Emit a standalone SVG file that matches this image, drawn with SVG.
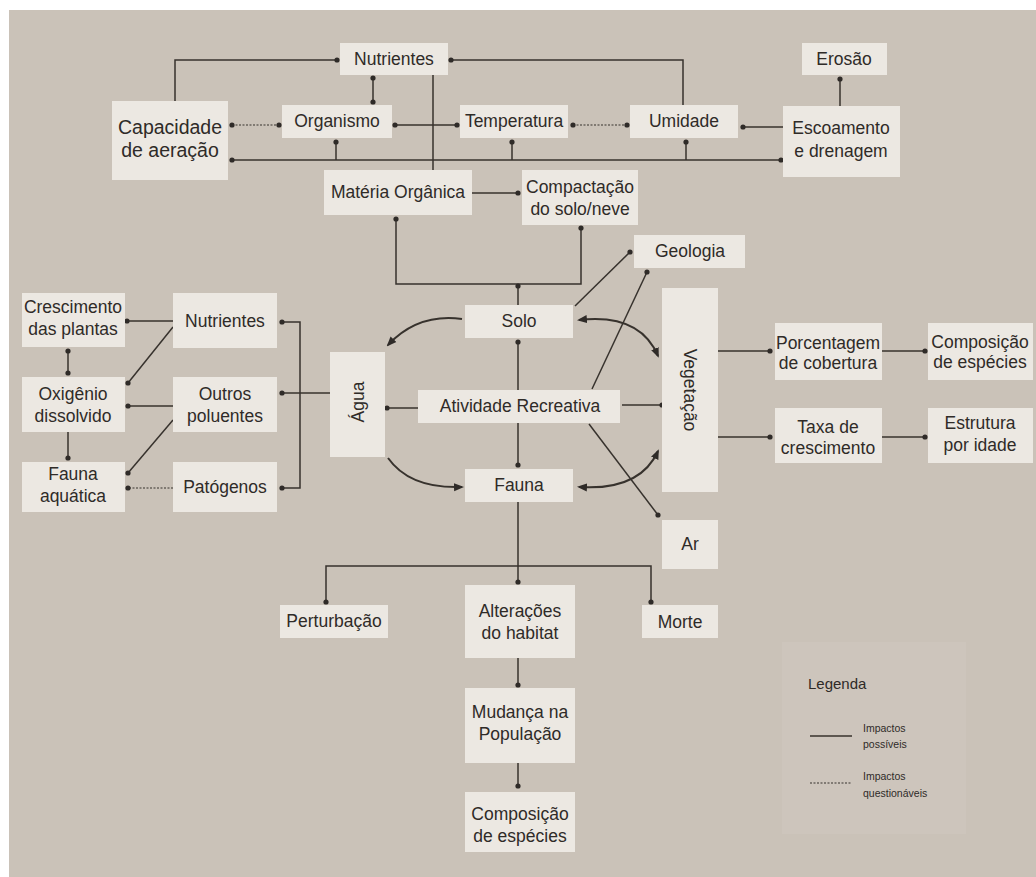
<svg xmlns="http://www.w3.org/2000/svg" width="1036" height="877" viewBox="0 0 1036 877">
<defs>
<style>
.box{fill:#ece8e2;}
.t{font-family:"Liberation Sans","Noto Sans",Arial,sans-serif;font-size:17.5px;fill:#2f2b28;text-anchor:middle;}
.big{font-size:19.5px;}
.lg{font-family:"Liberation Sans","Noto Sans",Arial,sans-serif;fill:#2f2b28;}
.c{fill:none;stroke:#37322d;stroke-width:1.5;}
.q{fill:none;stroke:#37322d;stroke-width:1.1;stroke-dasharray:2 1.5;}
.a{fill:none;stroke:#37322d;stroke-width:2;}
</style>
<marker id="dot" viewBox="0 0 6 6" refX="3" refY="3" markerWidth="6" markerHeight="6" markerUnits="userSpaceOnUse">
<circle cx="3" cy="3" r="2.6" fill="#2f2b28"/>
</marker>
<marker id="arr" viewBox="0 0 10 10" refX="8" refY="5" markerWidth="10" markerHeight="10" markerUnits="userSpaceOnUse" orient="auto-start-reverse">
<path d="M0,1 L10,5 L0,9 Z" fill="#2f2b28"/>
</marker>
</defs>
<rect x="0" y="0" width="1036" height="877" fill="#ffffff"/>
<rect x="9" y="10" width="1027" height="867" fill="#cac2b8"/>
<rect x="782" y="642" width="184" height="192" fill="#d3ccc2" opacity="0.35"/>

<g id="connectors">
<path class="c" d="M175,101 V60 H337" marker-end="url(#dot)"/>
<path class="c" d="M451,60 H683 V105" marker-start="url(#dot)"/>
<path class="c" d="M373,78 V102" marker-start="url(#dot)" marker-end="url(#dot)"/>
<path class="c" d="M433,75 V170"/>
<path class="q" d="M232,125 H279" marker-start="url(#dot)" marker-end="url(#dot)"/>
<path class="c" d="M395,125 H457" marker-start="url(#dot)" marker-end="url(#dot)"/>
<path class="q" d="M573,125 H627" marker-start="url(#dot)" marker-end="url(#dot)"/>
<path class="c" d="M743,127 H783" marker-start="url(#dot)"/>
<path class="c" d="M840,79 V106" marker-start="url(#dot)"/>
<path class="c" d="M232,160 H781" marker-start="url(#dot)" marker-end="url(#dot)"/>
<path class="c" d="M336,142 V160" marker-start="url(#dot)"/>
<path class="c" d="M512,142 V160" marker-start="url(#dot)"/>
<path class="c" d="M686,142 V160" marker-start="url(#dot)"/>
<path class="c" d="M472,193 H518" marker-end="url(#dot)"/>
<path class="c" d="M396,219 V284 H581 V228" marker-start="url(#dot)" marker-end="url(#dot)"/>
<path class="c" d="M518,286 V305" marker-start="url(#dot)"/>

<path class="c" d="M575,306 L630,252" marker-end="url(#dot)"/>
<path class="c" d="M592,389 L647,272" marker-end="url(#dot)"/>
<path class="c" d="M589,424 L658,515" marker-end="url(#dot)"/>
<path class="c" d="M518,342 V390" marker-start="url(#dot)"/>
<path class="c" d="M518,423 V465" marker-end="url(#dot)"/>
<path class="c" d="M418,408 H387" marker-end="url(#dot)"/>
<path class="c" d="M622,405 H662" marker-end="url(#dot)"/>
<path class="a" d="M462,319 Q418,313 388,345" marker-end="url(#arr)"/>
<path class="a" d="M388,458 Q410,489 462,487" marker-end="url(#arr)"/>
<path class="a" d="M579,320 Q640,313 658,356" marker-start="url(#arr)" marker-end="url(#arr)"/>
<path class="a" d="M579,487 Q640,491 658,451" marker-start="url(#arr)" marker-end="url(#arr)"/>

<path class="c" d="M173,321 H127" marker-end="url(#dot)"/>
<path class="c" d="M173,327 L128,383" marker-end="url(#dot)"/>
<path class="c" d="M173,406 H128" marker-end="url(#dot)"/>
<path class="c" d="M173,420 L128,473" marker-end="url(#dot)"/>
<path class="q" d="M173,488 H128" marker-end="url(#dot)"/>
<path class="c" d="M68,351 V373" marker-start="url(#dot)" marker-end="url(#dot)"/>
<path class="c" d="M68,432 V458" marker-end="url(#dot)"/>
<path class="c" d="M282,322 H300 V488 H282" marker-start="url(#dot)" marker-end="url(#dot)"/>
<path class="c" d="M330,393 H282" marker-end="url(#dot)"/>

<path class="c" d="M718,351 H770" marker-end="url(#dot)"/>
<path class="c" d="M882,351 H925" marker-end="url(#dot)"/>
<path class="c" d="M718,437 H770" marker-end="url(#dot)"/>
<path class="c" d="M882,437 H925" marker-end="url(#dot)"/>

<path class="c" d="M518,502 V582" marker-end="url(#dot)"/>
<path class="c" d="M326,602 V566 H651 V602" marker-start="url(#dot)" marker-end="url(#dot)"/>
<path class="c" d="M518,658 V685" marker-end="url(#dot)"/>
<path class="c" d="M518,763 V786" marker-end="url(#dot)"/>
</g>

<g id="n_nutrientes_top"><rect class="box" x="340" y="43" width="108" height="32"/><text class="t" x="394" y="65">Nutrientes</text></g>
<g id="n_capacidade"><rect class="box" x="112" y="101" width="116" height="79"/><text class="t big" x="170" y="134">Capacidade</text><text class="t big" x="170" y="157">de aeração</text></g>
<g id="n_organismo"><rect class="box" x="282" y="105" width="110" height="33"/><text class="t" x="337" y="127">Organismo</text></g>
<g id="n_temperatura"><rect class="box" x="460" y="105" width="108" height="33"/><text class="t" x="514" y="127">Temperatura</text></g>
<g id="n_umidade"><rect class="box" x="630" y="105" width="108" height="33"/><text class="t" x="684" y="127">Umidade</text></g>
<g id="n_erosao"><rect class="box" x="802" y="43" width="85" height="32"/><text class="t" x="844" y="65">Erosão</text></g>
<g id="n_escoamento"><rect class="box" x="783" y="106" width="117" height="71"/><text class="t" x="841" y="134">Escoamento</text><text class="t" x="841" y="157">e drenagem</text></g>
<g id="n_materia"><rect class="box" x="324" y="170" width="148" height="45"/><text class="t" x="398" y="198">Matéria Orgânica</text></g>
<g id="n_compactacao"><rect class="box" x="522" y="170" width="116" height="55"/><text class="t" x="580" y="193">Compactação</text><text class="t" x="580" y="215">do solo/neve</text></g>

<g id="n_solo"><rect class="box" x="465" y="305" width="108" height="33"/><text class="t" x="519" y="327">Solo</text></g>
<g id="n_geologia"><rect class="box" x="634" y="235" width="111" height="33"/><text class="t" x="690" y="257">Geologia</text></g>
<g id="n_vegetacao"><rect class="box" x="662" y="288" width="56" height="204"/><text class="t" transform="translate(684,390) rotate(90)" x="0" y="0">Vegetação</text></g>
<g id="n_agua"><rect class="box" x="330" y="352" width="55" height="105"/><text class="t" transform="translate(364,402) rotate(-90)" x="0" y="0">Água</text></g>
<g id="n_atividade"><rect class="box" x="418" y="390" width="202" height="33"/><text class="t" x="520" y="412">Atividade Recreativa</text></g>
<g id="n_fauna"><rect class="box" x="465" y="469" width="108" height="33"/><text class="t" x="519" y="491">Fauna</text></g>
<g id="n_ar"><rect class="box" x="662" y="520" width="56" height="49"/><text class="t" x="690" y="550">Ar</text></g>

<g id="n_crescimento"><rect class="box" x="22" y="293" width="103" height="54"/><text class="t" x="73" y="313">Crescimento</text><text class="t" x="73" y="335">das plantas</text></g>
<g id="n_nutrientes_left"><rect class="box" x="173" y="293" width="104" height="55"/><text class="t" x="225" y="327">Nutrientes</text></g>
<g id="n_oxigenio"><rect class="box" x="22" y="377" width="103" height="55"/><text class="t" x="73" y="400">Oxigênio</text><text class="t" x="73" y="422">dissolvido</text></g>
<g id="n_outros"><rect class="box" x="173" y="377" width="104" height="55"/><text class="t" x="225" y="400">Outros</text><text class="t" x="225" y="422">poluentes</text></g>
<g id="n_fauna_aquatica"><rect class="box" x="22" y="462" width="103" height="50"/><text class="t" x="73" y="480">Fauna</text><text class="t" x="73" y="502">aquática</text></g>
<g id="n_patogenos"><rect class="box" x="173" y="462" width="104" height="50"/><text class="t" x="225" y="493">Patógenos</text></g>

<g id="n_porcentagem"><rect class="box" x="775" y="323" width="107" height="57"/><text class="t" x="828" y="349">Porcentagem</text><text class="t" x="828" y="369">de cobertura</text></g>
<g id="n_composicao_right"><rect class="box" x="928" y="323" width="105" height="57"/><text class="t" x="980" y="348">Composição</text><text class="t" x="980" y="368">de espécies</text></g>
<g id="n_taxa"><rect class="box" x="775" y="408" width="107" height="55"/><text class="t" x="828" y="433">Taxa de</text><text class="t" x="828" y="454">crescimento</text></g>
<g id="n_estrutura"><rect class="box" x="928" y="408" width="105" height="55"/><text class="t" x="980" y="429">Estrutura</text><text class="t" x="980" y="451">por idade</text></g>

<g id="n_perturbacao"><rect class="box" x="280" y="605" width="108" height="33"/><text class="t" x="334" y="627">Perturbação</text></g>
<g id="n_alteracoes"><rect class="box" x="465" y="585" width="110" height="73"/><text class="t" x="520" y="617">Alterações</text><text class="t" x="520" y="639">do habitat</text></g>
<g id="n_morte"><rect class="box" x="642" y="605" width="76" height="33"/><text class="t" x="680" y="628">Morte</text></g>
<g id="n_mudanca"><rect class="box" x="465" y="688" width="110" height="75"/><text class="t" x="520" y="718">Mudança na</text><text class="t" x="520" y="740">População</text></g>
<g id="n_composicao_bottom"><rect class="box" x="465" y="792" width="110" height="60"/><text class="t" x="520" y="820">Composição</text><text class="t" x="520" y="842">de espécies</text></g>

<g id="legend">
<text class="lg" x="808" y="689" font-size="15">Legenda</text>
<line class="c" x1="810" y1="736" x2="852" y2="736"/>
<text class="lg" x="863" y="732" font-size="10.5">Impactos</text>
<text class="lg" x="863" y="748" font-size="10.5">possíveis</text>
<line class="q" x1="810" y1="783" x2="852" y2="783"/>
<text class="lg" x="863" y="780" font-size="10.5">Impactos</text>
<text class="lg" x="863" y="797" font-size="10.5">questionáveis</text>
</g>
</svg>
